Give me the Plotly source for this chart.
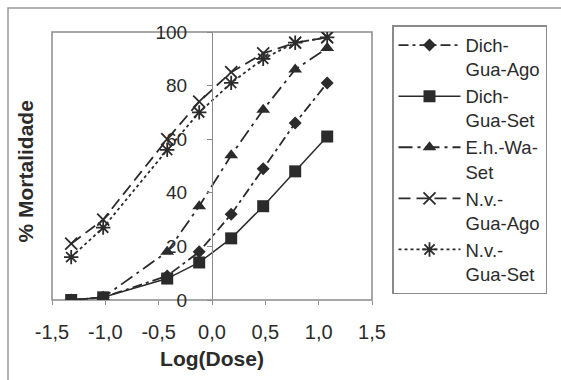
import plotly.graph_objects as go

# Data
log_dose = [-1.32, -1.02, -0.42, -0.12, 0.18, 0.48, 0.78, 1.08]
dich_gua_ago = [0, 1, 9, 18, 32, 49, 66, 81]
dich_gua_set = [0, 1, 8, 14, 23, 35, 48, 61]
eh_wa_set = [0, 1, 18, 35, 54, 71, 86, 94]
nv_gua_ago = [21, 30, 60, 74, 85, 92, 96, 98]
nv_gua_set = [16, 27, 56, 70, 81, 90, 96, 98]

series_names = ["Dich-<br>Gua-Ago", "Dich-<br>Gua-Set", "E.h.-Wa-<br>Set",
                "N.v.-<br>Gua-Ago", "N.v.-<br>Gua-Set"]
x_ticks = [-1.5, -1.0, -0.5, 0.0, 0.5, 1.0, 1.5]
x_tick_labels = ["-1,5", "-1,0", "-0,5", "0,0", "0,5", "1,0", "1,5"]
y_ticks = [0, 20, 40, 60, 80, 100]

INK = "#2b2b2b"
GRID = "#8a8a8a"
FONT = "Liberation Sans, Arial, sans-serif"

styles = [
    dict(values=dich_gua_ago, dash="10px,4px,3px,4px", symbol="diamond", size=10, lw=1.8),
    dict(values=dich_gua_set, dash="solid", symbol="square", size=12, lw=1.5),
    dict(values=eh_wa_set, dash="14px,5px,3px,5px", symbol="triangle-up", size=12, lw=1.8),
    dict(values=nv_gua_ago, dash="12px,6px", symbol="x-thin-open", size=12, lw=1.8),
    dict(values=nv_gua_set, dash="3px,3px", symbol="asterisk-open", size=12, lw=1.8),
]

fig = go.Figure()
for name, st in zip(series_names, styles):
    open_sym = st["symbol"].endswith("open")
    fig.add_trace(go.Scatter(
        x=log_dose, y=st["values"], name=name, mode="lines+markers",
        line=dict(color=INK, width=st["lw"], dash=st["dash"]),
        marker=dict(symbol=st["symbol"], size=st["size"], color=INK,
                    line=dict(color=INK, width=1.8 if open_sym else 0)),
    ))

fig.update_layout(
    width=561, height=380,
    margin=dict(l=52, r=189, t=32, b=80),
    paper_bgcolor="white", plot_bgcolor="white",
    font=dict(family=FONT, color=INK),
    showlegend=True,
    legend=dict(
        x=1.0625, y=1.026, xanchor="left", yanchor="top",
        bordercolor=GRID, borderwidth=1.5, bgcolor="white",
        font=dict(family=FONT, size=18.5, color=INK),
        valign="top", itemwidth=62, tracegroupgap=0, maxheight=340,
    ),
    xaxis=dict(
        range=[-1.5, 1.5], tickvals=x_ticks, ticktext=x_tick_labels,
        showgrid=False, zeroline=False, showline=False,
        ticks="outside", ticklen=4, tickcolor=GRID,
        tickfont=dict(family=FONT, size=20, color=INK),
        ticklabelstandoff=10,
        title=dict(text="<b>Log(Dose)</b>", font=dict(family=FONT, size=21, color=INK), standoff=9),
    ),
    yaxis=dict(
        range=[0, 100], tickvals=y_ticks,
        anchor="free", position=0.5,
        showgrid=False, zeroline=False,
        showline=True, linecolor=GRID, linewidth=1.2,
        ticks="outside", ticklen=5, tickcolor=GRID,
        tickfont=dict(family=FONT, size=19, color=INK),
        ticklabelstandoff=16,
    ),
    shapes=[
        dict(type="rect", xref="paper", yref="paper", x0=0, x1=1, y0=0, y1=1,
             line=dict(color=GRID, width=1.5), layer="below"),
        dict(type="rect", xref="paper", yref="paper", x0=-0.1375, x1=1.62, y0=-0.33, y1=1.0896,
             line=dict(color="#9a9a9a", width=1.5), layer="below"),
    ],
    annotations=[
        dict(text="<b>% Mortalidade</b>", textangle=-90, xref="paper", yref="paper",
             x=-0.083, y=0.481, xanchor="center", yanchor="middle", showarrow=False,
             font=dict(family=FONT, size=21, color=INK)),
    ],
)

fig.write_html("out.html", config={"displayModeBar": False},
               post_script="document.body.style.margin='0';document.body.style.overflow='hidden';")
